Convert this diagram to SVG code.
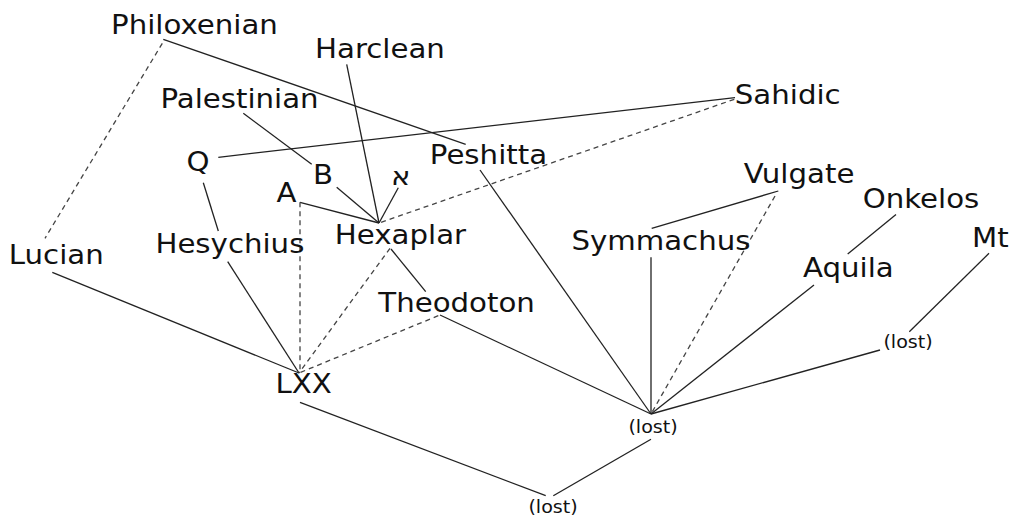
<svg xmlns="http://www.w3.org/2000/svg" width="1013" height="515" viewBox="0 0 1013 515">
<style>
text{font-family:"DejaVu Sans","Liberation Sans",sans-serif;fill:#111}
.big{font-size:26px}
.small{font-size:17px}
.c line{stroke:#222;stroke-width:1.3;fill:none}
.c line.d{stroke:#444;stroke-dasharray:5,4}
</style>
<rect width="1013" height="515" fill="#fff"/>
<g id="connectors" class="c">
<line x1="163.3" y1="39.3" x2="465.7" y2="144.3"/>
<line x1="243.3" y1="113.3" x2="311.7" y2="164.3"/>
<line x1="218.3" y1="157.3" x2="735" y2="97.7"/>
<line x1="346.7" y1="64.3" x2="379" y2="223"/>
<line x1="336.7" y1="187.3" x2="379" y2="223"/>
<line x1="398.3" y1="187.7" x2="379" y2="223"/>
<line x1="300" y1="202.3" x2="379" y2="223"/>
<line x1="391" y1="249" x2="425.7" y2="291.7"/>
<line x1="440" y1="315" x2="651" y2="414"/>
<line x1="480" y1="170" x2="651" y2="414"/>
<line x1="651" y1="257.3" x2="651" y2="414"/>
<line x1="778.3" y1="191" x2="651.7" y2="228.3"/>
<line x1="814" y1="285" x2="651" y2="414"/>
<line x1="896" y1="214.5" x2="847.7" y2="254"/>
<line x1="989" y1="253.3" x2="909.3" y2="331.7"/>
<line x1="880" y1="350" x2="651" y2="414"/>
<line x1="227.7" y1="261.7" x2="299" y2="373"/>
<line x1="203.3" y1="182.7" x2="218.3" y2="231"/>
<line x1="52.3" y1="272.3" x2="299" y2="373"/>
<line x1="300" y1="402.3" x2="545.7" y2="495.7"/>
<line x1="651" y1="439.3" x2="553.3" y2="495.7"/>
<line class="d" x1="162.3" y1="43.3" x2="45" y2="238.3"/>
<line class="d" x1="734.3" y1="99.3" x2="379" y2="223"/>
<line class="d" x1="300" y1="202.3" x2="300" y2="373"/>
<line class="d" x1="390" y1="248.3" x2="299" y2="373"/>
<line class="d" x1="438.3" y1="315.7" x2="299" y2="373"/>
<line class="d" x1="775" y1="196" x2="651" y2="414"/>
</g>
<g id="philoxenian" transform="translate(111,34) scale(1.125,1)"><text class="big">Philoxenian</text></g>
<g id="harclean" transform="translate(315,58) scale(1.125,1)"><text class="big">Harclean</text></g>
<g id="palestinian" transform="translate(160.4,108) scale(1.125,1)"><text class="big">Palestinian</text></g>
<g id="sahidic" transform="translate(734.8,104) scale(1.125,1)"><text class="big">Sahidic</text></g>
<g id="q" transform="translate(186.4,171) scale(1.125,1)"><text class="big">Q</text></g>
<g id="b" transform="translate(313,184) scale(1.125,1)"><text class="big">B</text></g>
<g id="aleph" transform="translate(391,185) scale(1.125,1)"><text class="big">א</text></g>
<g id="a" transform="translate(276.5,202) scale(1.125,1)"><text class="big">A</text></g>
<g id="hexaplar" transform="translate(334.8,244) scale(1.125,1)"><text class="big">Hexaplar</text></g>
<g id="hesychius" transform="translate(155.4,253) scale(1.125,1)"><text class="big">Hesychius</text></g>
<g id="lucian" transform="translate(8.8,264) scale(1.125,1)"><text class="big">Lucian</text></g>
<g id="peshitta" transform="translate(429.8,163.5) scale(1.125,1)"><text class="big">Peshitta</text></g>
<g id="theodoton" transform="translate(378.3,311.7) scale(1.125,1)"><text class="big">Theodoton</text></g>
<g id="lxx" transform="translate(275.4,393) scale(1.125,1)"><text class="big">LXX</text></g>
<g id="vulgate" transform="translate(743.8,183.3) scale(1.125,1)"><text class="big">Vulgate</text></g>
<g id="onkelos" transform="translate(862.7,207.7) scale(1.125,1)"><text class="big">Onkelos</text></g>
<g id="symmachus" transform="translate(571.4,250) scale(1.125,1)"><text class="big">Symmachus</text></g>
<g id="mt" transform="translate(972,246.7) scale(1.125,1)"><text class="big">Mt</text></g>
<g id="aquila" transform="translate(803,276.7) scale(1.125,1)"><text class="big">Aquila</text></g>
<g id="lost1" transform="translate(628.4,433) scale(1.125,1)"><text class="small">(lost)</text></g>
<g id="lost2" transform="translate(883.4,348) scale(1.125,1)"><text class="small">(lost)</text></g>
<g id="lost3" transform="translate(528.4,513) scale(1.125,1)"><text class="small">(lost)</text></g>
</svg>
